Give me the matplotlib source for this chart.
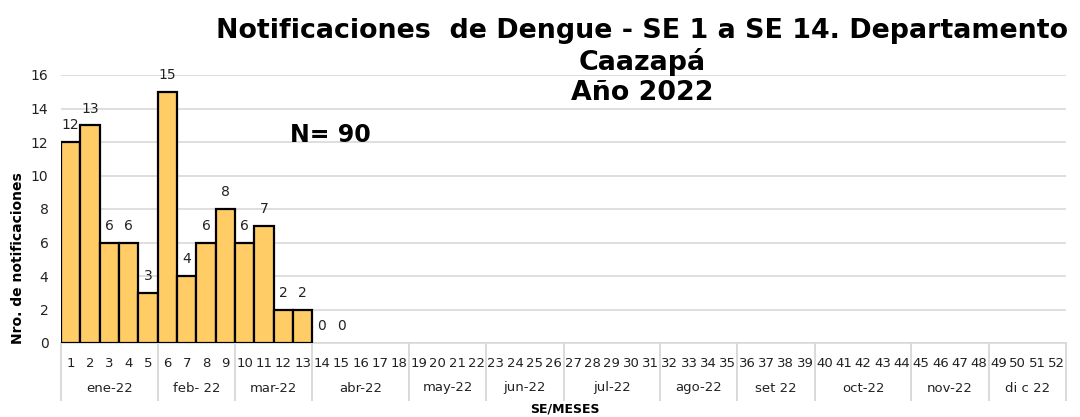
import matplotlib
matplotlib.use("Agg")
import matplotlib.pyplot as plt
import matplotlib.transforms as mtransforms

weeks = list(range(1, 53))
values = [12, 13, 6, 6, 3, 15, 4, 6, 8, 6, 7, 2, 2, 0, 0]
months = ["ene-22", "feb- 22", "mar-22", "abr-22", "may-22", "jun-22", "jul-22",
          "ago-22", "set 22", "oct-22", "nov-22", "di c 22"]
weeks_per_month = [5, 4, 4, 5, 4, 4, 5, 4, 4, 5, 4, 4]
yticks = [0, 2, 4, 6, 8, 10, 12, 14, 16]

bar_color = "#FFCC66"
grid_color = "#D9D9D9"

fig = plt.figure(figsize=(10.8, 4.17), dpi=100)
ax = fig.add_axes([61/1080, 1-343/417, 1005/1080, (343-75)/417])

x_vals = weeks[:len(values)]
bars = ax.bar(x_vals, values, width=1.0, color=bar_color, edgecolor="black",
              linewidth=1.6, zorder=3)
for b, v in zip(bars, values):
    if v == 0:
        b.set_linewidth(0)
    ax.annotate(str(v), (b.get_x() + b.get_width()/2, v), xytext=(0, 7),
                textcoords="offset points", ha="center", va="bottom",
                fontsize=10, color="#222222")

ax.set_xlim(0.5, 52.5)
ax.set_ylim(0, 16)
ax.set_yticks(yticks)
ax.set_yticklabels([str(t) for t in yticks], fontsize=10, color="#222222")
ax.yaxis.grid(True, color=grid_color, linewidth=1.2, zorder=0)
ax.set_axisbelow(True)
for s in ["left", "right", "top"]:
    ax.spines[s].set_visible(False)
ax.spines["bottom"].set_color(grid_color)
ax.spines["bottom"].set_linewidth(1.2)
ax.tick_params(axis="y", length=0, pad=9)
ax.set_xticks(weeks)
ax.set_xticklabels([str(w) for w in weeks], fontsize=9.5, color="#222222")
ax.tick_params(axis="x", length=0, pad=10)

trans = mtransforms.blended_transform_factory(ax.transData, ax.transAxes)
sep_bottom = -(400-343)/268
start = 0.5
bounds = [start]
for n in weeks_per_month:
    bounds.append(bounds[-1] + n)
for bx in bounds:
    ax.plot([bx, bx], [0, sep_bottom], transform=trans, color=grid_color,
            linewidth=1.4, clip_on=False)
for i, m in enumerate(months):
    cx = (bounds[i] + bounds[i+1]) / 2
    ax.text(cx, -(388-343)/268, m, transform=trans, ha="center", va="center",
            fontsize=9.5, color="#222222")

fig.text(565/1080, 1-409/417, "SE/MESES", ha="center", va="center",
         fontsize=9, fontweight="bold")
fig.text(18/1080, 1-258/417, "Nro. de notificaciones", rotation=90,
         ha="center", va="center", fontsize=10, fontweight="bold")

fig.text(642/1080, 1-62/417,
         "Notificaciones  de Dengue - SE 1 a SE 14. Departamento\nCaazapá\nAño 2022",
         ha="center", va="center", fontsize=19.4, fontweight="bold",
         linespacing=1.2, multialignment="center")
fig.text(290/1080, 1-135/417, "N= 90", ha="left", va="center",
         fontsize=17, fontweight="bold")

fig.savefig("out.png", dpi=100)
